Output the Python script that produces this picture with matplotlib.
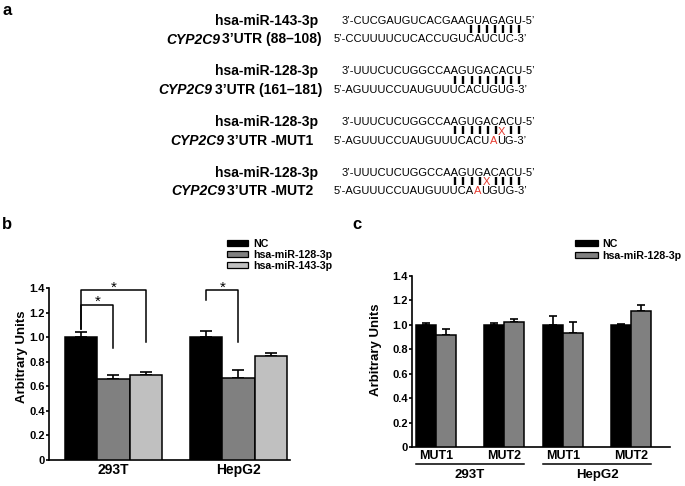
import numpy as np
import matplotlib
matplotlib.use('Agg')
import matplotlib.pyplot as plt
from matplotlib.patches import Rectangle
import matplotlib.transforms as mtransforms

plt.rcParams['font.family'] = ['Liberation Sans', 'DejaVu Sans']

# ---------------- data ----------------
# panel a : miRNA / CYP2C9 3'UTR pairing
mirna_names = ['hsa-miR-143-3p', 'hsa-miR-128-3p', 'hsa-miR-128-3p', 'hsa-miR-128-3p']
target_gene = 'CYP2C9'
target_sites = ['3’UTR (88–108)', '3’UTR (161–181)', '3’UTR -MUT1', '3’UTR -MUT2']
mirna_seqs = ['3’-CUCGAUGUCACGAAGUAGAGU-5’',
              '3’-UUUCUCUGGCCAAGUGACACU-5’',
              '3’-UUUCUCUGGCCAAGUGACACU-5’',
              '3’-UUUCUCUGGCCAAGUGACACU-5’']
target_seqs = ['5’-CCUUUUCUCACCUGUCAUCUC-3’',
               '5’-AGUUUCCUAUGUUUCACUGUG-3’',
               '5’-AGUUUCCUAUGUUUCACUAUG-3’',
               '5’-AGUUUCCUAUGUUUCAAUGUG-3’']
pairings = ['                 |||||||   ',
            '               |||||||||   ',
            '               ||||||x||   ',
            '               ||||x||||   ']
mutated_pos = [None, None, 21, 19]

# panel b : wild-type reporter
cell_lines_b = ['293T', 'HepG2']
treatments_b = ['NC', 'hsa-miR-128-3p', 'hsa-miR-143-3p']
nc_b = [1.00, 1.00]
nc_b_err = [0.045, 0.05]
mir128_b = [0.66, 0.67]
mir128_b_err = [0.03, 0.06]
mir143_b = [0.69, 0.85]
mir143_b_err = [0.03, 0.025]
sig_b = [(0, 0, 1), (0, 0, 2), (1, 0, 1)]   # (cell line, bar i, bar j)

# panel c : mutant reporters
constructs_c = ['MUT1', 'MUT2', 'MUT1', 'MUT2']
cell_lines_c = ['293T', 'HepG2']
treatments_c = ['NC', 'hsa-miR-128-3p']
nc_c = [1.00, 1.00, 1.00, 1.00]
nc_c_err = [0.016, 0.016, 0.074, 0.008]
mir128_c = [0.92, 1.02, 0.93, 1.11]
mir128_c_err = [0.045, 0.03, 0.097, 0.05]

yticks = [0, 0.2, 0.4, 0.6, 0.8, 1.0, 1.2, 1.4]
ytick_labels = ['0', '0.2', '0.4', '0.6', '0.8', '1.0', '1.2', '1.4']

# ---------------- layout ----------------
W, H = 685, 486
fig = plt.figure(figsize=(W / 100, H / 100), dpi=100)


def px_axes(l, r, t, b):
    return fig.add_axes([l / W, 1 - b / H, (r - l) / W, (b - t) / H])


ov = fig.add_axes([0, 0, 1, 1])
ov.set_xlim(0, W)
ov.set_ylim(H, 0)
ov.axis('off')
renderer = fig.canvas.get_renderer()


def wpx(s, **kw):
    t = ov.text(0, 0, s, **kw)
    w = t.get_window_extent(renderer).width
    t.remove()
    return w


RED = '#e53a2f'
colors_b = ['#000000', '#808080', '#c0c0c0']

# ---------------- panel a ----------------
ov.text(7, 15, 'a', fontsize=12, fontweight='bold', ha='center', va='baseline')
row_y = [20, 70.5, 121, 171.5]
name_right = [318, 318, 318, 318]
site_right = [322, 322, 313, 313]
x_mi, x_tg = 342, 334
seq_kw = dict(fontsize=8, fontweight='normal')
lab_kw = dict(fontsize=10, fontweight='bold')
for i in range(4):
    ym = row_y[i]
    yb = ym + 9.5
    yt = ym + 18.5
    ov.text(name_right[i], ym + 5, mirna_names[i], ha='right', va='baseline', **lab_kw)
    site_w = wpx(target_sites[i], **lab_kw)
    ov.text(site_right[i], yt + 5, target_sites[i], ha='right', va='baseline', **lab_kw)
    ov.text(site_right[i] - site_w - 2, yt + 5, target_gene, ha='right', va='baseline',
            fontstyle='italic', **lab_kw)
    seq = mirna_seqs[i]
    ov.text(x_mi, ym + 4, seq, ha='left', va='baseline', **seq_kw)
    centers = [x_mi + wpx(seq[:k + 1], **seq_kw) - wpx(seq[k], **seq_kw) / 2 for k in range(len(seq))]
    for k, ch in enumerate(pairings[i]):
        if ch == '|':
            ov.plot([centers[k], centers[k]], [yb - 4, yb + 4], color='black', lw=1.7,
                    solid_capstyle='butt')
        elif ch == 'x':
            ov.text(centers[k] - 1.5, yb + 4, 'X', color=RED, ha='center', va='baseline', **seq_kw)
    tseq = target_seqs[i]
    m = mutated_pos[i]
    if m is None:
        ov.text(x_tg, yt + 4, tseq, ha='left', va='baseline', **seq_kw)
    else:
        ov.text(x_tg, yt + 4, tseq[:m], ha='left', va='baseline', **seq_kw)
        xm = x_tg + wpx(tseq[:m + 1], **seq_kw) - wpx(tseq[m], **seq_kw)
        ov.text(xm, yt + 4, tseq[m], color=RED, ha='left', va='baseline', **seq_kw)
        xs = x_tg + wpx(tseq[:m + 2], **seq_kw) - wpx(tseq[m + 1], **seq_kw)
        ov.text(xs, yt + 4, tseq[m + 1:], ha='left', va='baseline', **seq_kw)


def style_axes(ax):
    ax.set_facecolor('none')
    for s in ['top', 'right']:
        ax.spines[s].set_visible(False)
    for s in ['left', 'bottom']:
        ax.spines[s].set_linewidth(1.2)
    ax.set_ylim(0, 1.4)
    ax.set_yticks(yticks)
    ax.set_yticklabels(ytick_labels, fontsize=8, fontweight='bold')
    ax.tick_params(axis='y', length=2.2, width=1.2, pad=0.6)
    ax.tick_params(axis='x', length=0)


# ---------------- panel b ----------------
ov.text(7, 229, 'b', fontsize=12, fontweight='bold', ha='center', va='baseline')
axb = px_axes(49, 290, 288, 460)
style_axes(axb)
ux_b = 32.3
axb.set_xlim(0, 241 / ux_b)
group_start_b = [(65 - 49) / ux_b, (190 - 49) / ux_b]
series_b = [(nc_b, nc_b_err), (mir128_b, mir128_b_err), (mir143_b, mir143_b_err)]
xpos_b = [[g + 0.5 + k for g in group_start_b] for k in range(3)]
for k, (vals, errs) in enumerate(series_b):
    axb.errorbar(xpos_b[k], vals, yerr=[np.zeros(len(errs)), errs], fmt='none',
                 ecolor='black', elinewidth=1.2, capsize=4.6, capthick=1.2, zorder=2)
    axb.bar(xpos_b[k], vals, width=1.0, color=colors_b[k], edgecolor='black',
            linewidth=1.1, zorder=3)
axb.set_xticks([g + 1.5 for g in group_start_b])
axb.set_xticklabels(cell_lines_b, fontsize=10, fontweight='bold')
axb.tick_params(axis='x', pad=2.5)
axb.set_ylabel('Arbitrary Units', fontsize=9.5, fontweight='bold', va='center')
axb.yaxis.set_label_coords((22 - 49) / 241, 0.6)

bracket_y = [1.26, 1.38, 1.38]
left_low = [1.07, 1.07, 1.30]
right_low = [0.91, 0.96, 0.96]
for (g, i, j), yb_, yl, yr in zip(sig_b, bracket_y, left_low, right_low):
    x1, x2 = xpos_b[i][g], xpos_b[j][g]
    axb.plot([x1, x1, x2, x2], [yl, yb_, yb_, yr], color='black', lw=1.1, clip_on=False)
    axb.text((x1 + x2) / 2, yb_ - 0.008, '*', ha='center', va='baseline', fontsize=11,
             fontweight='normal', clip_on=False)

leg_y_b = [243, 254, 265]
for name, col, y in zip(treatments_b, colors_b, leg_y_b):
    ov.add_patch(Rectangle((227, y - 3), 21, 6, facecolor=col, edgecolor='black', lw=0.9))
    ov.text(253, y + 3.5, name, fontsize=7.7, fontweight='bold', ha='left', va='baseline')

# ---------------- panel c ----------------
ov.text(357, 229, 'c', fontsize=12, fontweight='bold', ha='center', va='baseline')
axc = px_axes(412, 670, 276, 447)
style_axes(axc)
ux_c = 20.0
axc.set_xlim(0, 258 / ux_c)
pair_centers = [(436 - 412) / ux_c, (504 - 412) / ux_c, (563 - 412) / ux_c, (631 - 412) / ux_c]
colors_c = ['#000000', '#808080']
series_c = [(nc_c, nc_c_err), (mir128_c, mir128_c_err)]
for k, (vals, errs) in enumerate(series_c):
    xs = [c - 0.5 + k for c in pair_centers]
    axc.errorbar(xs, vals, yerr=[np.zeros(len(errs)), errs], fmt='none',
                 ecolor='black', elinewidth=1.2, capsize=3.2, capthick=1.2, zorder=2)
    axc.bar(xs, vals, width=1.0, color=colors_c[k], edgecolor='black', linewidth=1.1, zorder=3)
axc.set_xticks(pair_centers)
axc.set_xticklabels(constructs_c, fontsize=9, fontweight='bold')
axc.tick_params(axis='x', pad=2.2)
axc.set_ylabel('Arbitrary Units', fontsize=9.5, fontweight='bold', va='center')
axc.yaxis.set_label_coords((376 - 412) / 258, 0.57)

blend = mtransforms.blended_transform_factory(axc.transData, axc.transAxes)
for g, name in enumerate(cell_lines_c):
    a, b = pair_centers[2 * g], pair_centers[2 * g + 1]
    axc.plot([a - 1.0, b + 1.0], [-0.099, -0.099], color='black', lw=1.1,
             transform=blend, clip_on=False)
    axc.text((a + b) / 2, -0.165, name, fontsize=9.5, fontweight='bold',
             ha='center', va='center', transform=blend)

leg_y_c = [243, 255]
for name, col, y in zip(treatments_c, colors_c, leg_y_c):
    ov.add_patch(Rectangle((575, y - 3), 23, 6, facecolor=col, edgecolor='black', lw=0.9))
    ov.text(602, y + 3.5, name, fontsize=7.7, fontweight='bold', ha='left', va='baseline')

fig.savefig('out.png', dpi=100)
